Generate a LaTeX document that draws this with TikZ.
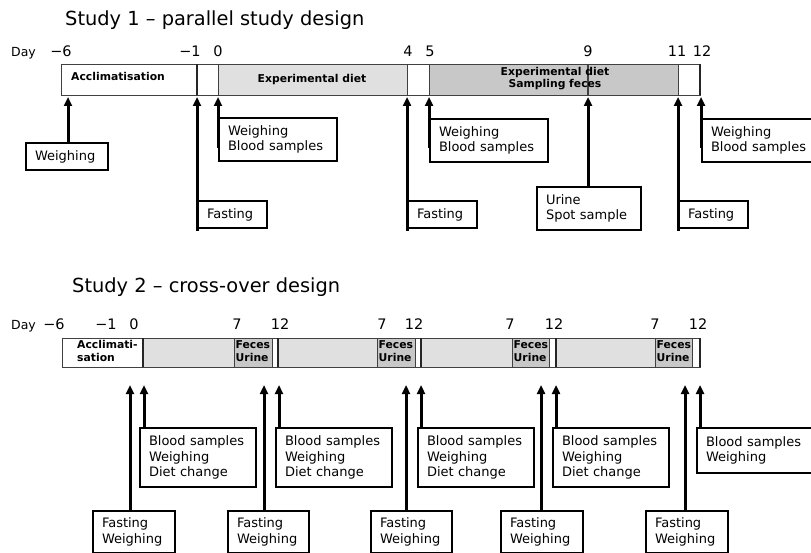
\documentclass[tikz,border=0pt]{standalone}
\usepackage{fontspec}
\setmainfont{DejaVu Sans}
\usetikzlibrary{arrows.meta,shadows}
\definecolor{lgray}{HTML}{E0E0E0}
\definecolor{dgray}{HTML}{C8C8C8}
\definecolor{bord}{HTML}{404040}
\begin{document}
\begin{tikzpicture}[x=1pt,y=-1pt,
  evbox/.style={draw, line width=2pt, fill=white, anchor=north west, align=left,
    inner xsep=9pt, inner ysep=0pt, font=\fontsize{13}{15.5}\selectfont,
    drop shadow={shadow xshift=1.3pt, shadow yshift=-1.3pt, fill=black, opacity=1}},
  arr/.style={line width=3pt, -{Triangle[width=8pt,length=9pt]}},
  barline/.style={draw=bord, line width=0.9pt},
  divider/.style={line width=2.8pt, black!85},
  barlbl/.style={font=\fontsize{10.8}{12.5}\selectfont\bfseries, inner sep=0pt},
  daynum/.style={font=\fontsize{14.5}{16}\selectfont, anchor=base, inner sep=0pt},
  daylbl/.style={font=\fontsize{12.5}{14}\selectfont, anchor=base west, inner sep=0pt},
  ttl/.style={font=\fontsize{19.4}{22}\selectfont, anchor=base west, inner sep=0pt}]
\useasboundingbox[fill=white] (0,0) rectangle (811,553);

% ---------------- Study 1 ----------------
\node[ttl] (t1) at (65,26) {Study 1 – parallel study design};
\node[daylbl] (d1) at (11,57) {Day};
\node[daynum] (n1a) at (61,57) {−6};
\node[daynum] (n1b) at (190,57) {−1};
\node[daynum] (n1c) at (218,57) {0};
\node[daynum] (n1d) at (408,57) {4};
\node[daynum] (n1e) at (430,57) {5};
\node[daynum] (n1f) at (588,57) {9};
\node[daynum] (n1g) at (677,57) {11};
\node[daynum] (n1h) at (702,57) {12};

\draw[barline, fill=white] (61,64) rectangle (700,95);
\draw[barline, fill=lgray] (218,64) rectangle (407,95);
\draw[barline, fill=dgray] (429,64) rectangle (678,95);
\draw[draw=bord, line width=1.2pt] (588,64) -- (588,95);
\draw[divider] (197,64) -- (197,95);
\draw[divider] (700,64) -- (700,95);
\node[barlbl, anchor=west] (b1a) at (71,76) {Acclimatisation};
\node[barlbl] (b1b) at (312,80) {Experimental diet};
\node[barlbl, align=center] (b1c) at (555,78.5) {Experimental diet\\Sampling feces};

\coordinate (p1) at (68,97);
\coordinate (p2) at (197,97);
\coordinate (p3) at (218,97);
\coordinate (p4) at (407,97);
\coordinate (p5) at (429,97);
\coordinate (p6) at (588,97);
\coordinate (p7) at (678,97);
\coordinate (p8) at (701,97);
\coordinate (q2) at (197,231);
\coordinate (q3) at (218,148);
\coordinate (q4) at (407,231);
\coordinate (q5) at (429,148);
\coordinate (q7) at (678,231);
\coordinate (q8) at (701,148);

\draw[arr] (68,142) -- (p1);
\draw[arr] (q2) -- (p2);
\draw[arr] (q3) -- (p3);
\draw[arr] (q4) -- (p4);
\draw[arr] (q5) -- (p5);
\draw[arr] (588,186) -- (p6);
\draw[arr] (q7) -- (p7);
\draw[arr] (q8) -- (p8);

\node[evbox, text width=64pt, minimum height=27pt] (w1) at (25,142) {Weighing};
\node[evbox, text width=100pt, minimum height=43pt] (wb0) at (218,117) {Weighing\\Blood samples};
\node[evbox, text width=51pt, minimum height=27pt] (f1) at (197,200) {Fasting};
\node[evbox, text width=51pt, minimum height=27pt] (f4) at (407,200) {Fasting};
\node[evbox, text width=100pt, minimum height=43pt] (wb5) at (429,118) {Weighing\\Blood samples};
\node[evbox, text width=86pt, minimum height=43pt] (u9) at (536,186) {Urine\\Spot sample};
\node[evbox, text width=51pt, minimum height=27pt] (f11) at (678,200) {Fasting};
\node[evbox, text width=100pt, minimum height=43pt] (wb12) at (701,118) {Weighing\\Blood samples};

% ---------------- Study 2 ----------------
\node[ttl] (t2) at (72,293) {Study 2 – cross-over design};
\node[daylbl] (d2) at (11,330) {Day};
\node[daynum] (n2a) at (54,330) {−6};
\node[daynum] (n2b) at (106,330) {−1};
\node[daynum] (n2c) at (134,330) {0};
\node[daynum] (n2d) at (237,330) {7};
\node[daynum] (n2e) at (280,330) {12};
\node[daynum] (n2f) at (382,330) {7};
\node[daynum] (n2g) at (414,330) {12};
\node[daynum] (n2h) at (510,330) {7};
\node[daynum] (n2i) at (554,330) {12};
\node[daynum] (n2j) at (655,330) {7};
\node[daynum] (n2k) at (698,330) {12};

\draw[barline, fill=white] (62,338) rectangle (700,367);
\draw[barline, fill=lgray] (143,338) rectangle (234,367);
\draw[barline, fill=dgray] (234,338) rectangle (272,367);
\draw[barline, fill=lgray] (278,338) rectangle (377,367);
\draw[barline, fill=dgray] (377,338) rectangle (415,367);
\draw[barline, fill=lgray] (421,338) rectangle (512,367);
\draw[barline, fill=dgray] (512,338) rectangle (549,367);
\draw[barline, fill=lgray] (556,338) rectangle (655,367);
\draw[barline, fill=dgray] (655,338) rectangle (692,367);
\draw[divider] (143,338) -- (143,367);
\draw[divider] (278,338) -- (278,367);
\draw[divider, line width=2pt] (421,338) -- (421,367);
\draw[divider, line width=2pt] (556,338) -- (556,367);
\draw[divider] (700,338) -- (700,367);
\node[barlbl, anchor=west, align=left] (b2a) at (77,351) {Acclimati-\\sation};
\node[barlbl, anchor=west, align=left] (b2b) at (235.5,351) {Feces\\Urine};
\node[barlbl, anchor=west, align=left] (b2c) at (378.5,351) {Feces\\Urine};
\node[barlbl, anchor=west, align=left] (b2d) at (513.5,351) {Feces\\Urine};
\node[barlbl, anchor=west, align=left] (b2e) at (656.5,351) {Feces\\Urine};

\coordinate (r1) at (130,385);
\coordinate (r2) at (144,385);
\coordinate (r3) at (264,385);
\coordinate (r4) at (279,385);
\coordinate (r5) at (406,385);
\coordinate (r6) at (421,385);
\coordinate (r7) at (541,385);
\coordinate (r8) at (556,385);
\coordinate (r9) at (685,385);
\coordinate (r10) at (700,385);

\draw[arr] (130,510) -- (r1);
\draw[arr] (144,427) -- (r2);
\draw[arr] (264,510) -- (r3);
\draw[arr] (279,427) -- (r4);
\draw[arr] (406,510) -- (r5);
\draw[arr] (421,427) -- (r6);
\draw[arr] (541,510) -- (r7);
\draw[arr] (556,427) -- (r8);
\draw[arr] (685,510) -- (r9);
\draw[arr] (700,427) -- (r10);

\node[evbox, text width=98pt, minimum height=59pt] (bs1) at (139,427) {Blood samples\\Weighing\\Diet change};
\node[evbox, text width=98pt, minimum height=59pt] (bs2) at (275,427) {Blood samples\\Weighing\\Diet change};
\node[evbox, text width=98pt, minimum height=59pt] (bs3) at (417,427) {Blood samples\\Weighing\\Diet change};
\node[evbox, text width=98pt, minimum height=59pt] (bs4) at (552,427) {Blood samples\\Weighing\\Diet change};
\node[evbox, text width=100pt, minimum height=45pt] (bs5) at (696,427) {Blood samples\\Weighing};

\node[evbox, text width=64pt, minimum height=42pt] (fw1) at (92,510) {Fasting\\Weighing};
\node[evbox, text width=63pt, minimum height=42pt] (fw2) at (227,510) {Fasting\\Weighing};
\node[evbox, text width=63pt, minimum height=42pt] (fw3) at (370,510) {Fasting\\Weighing};
\node[evbox, text width=64pt, minimum height=42pt] (fw4) at (500,510) {Fasting\\Weighing};
\node[evbox, text width=64pt, minimum height=42pt] (fw5) at (645,510) {Fasting\\Weighing};
\end{tikzpicture}
\end{document}
